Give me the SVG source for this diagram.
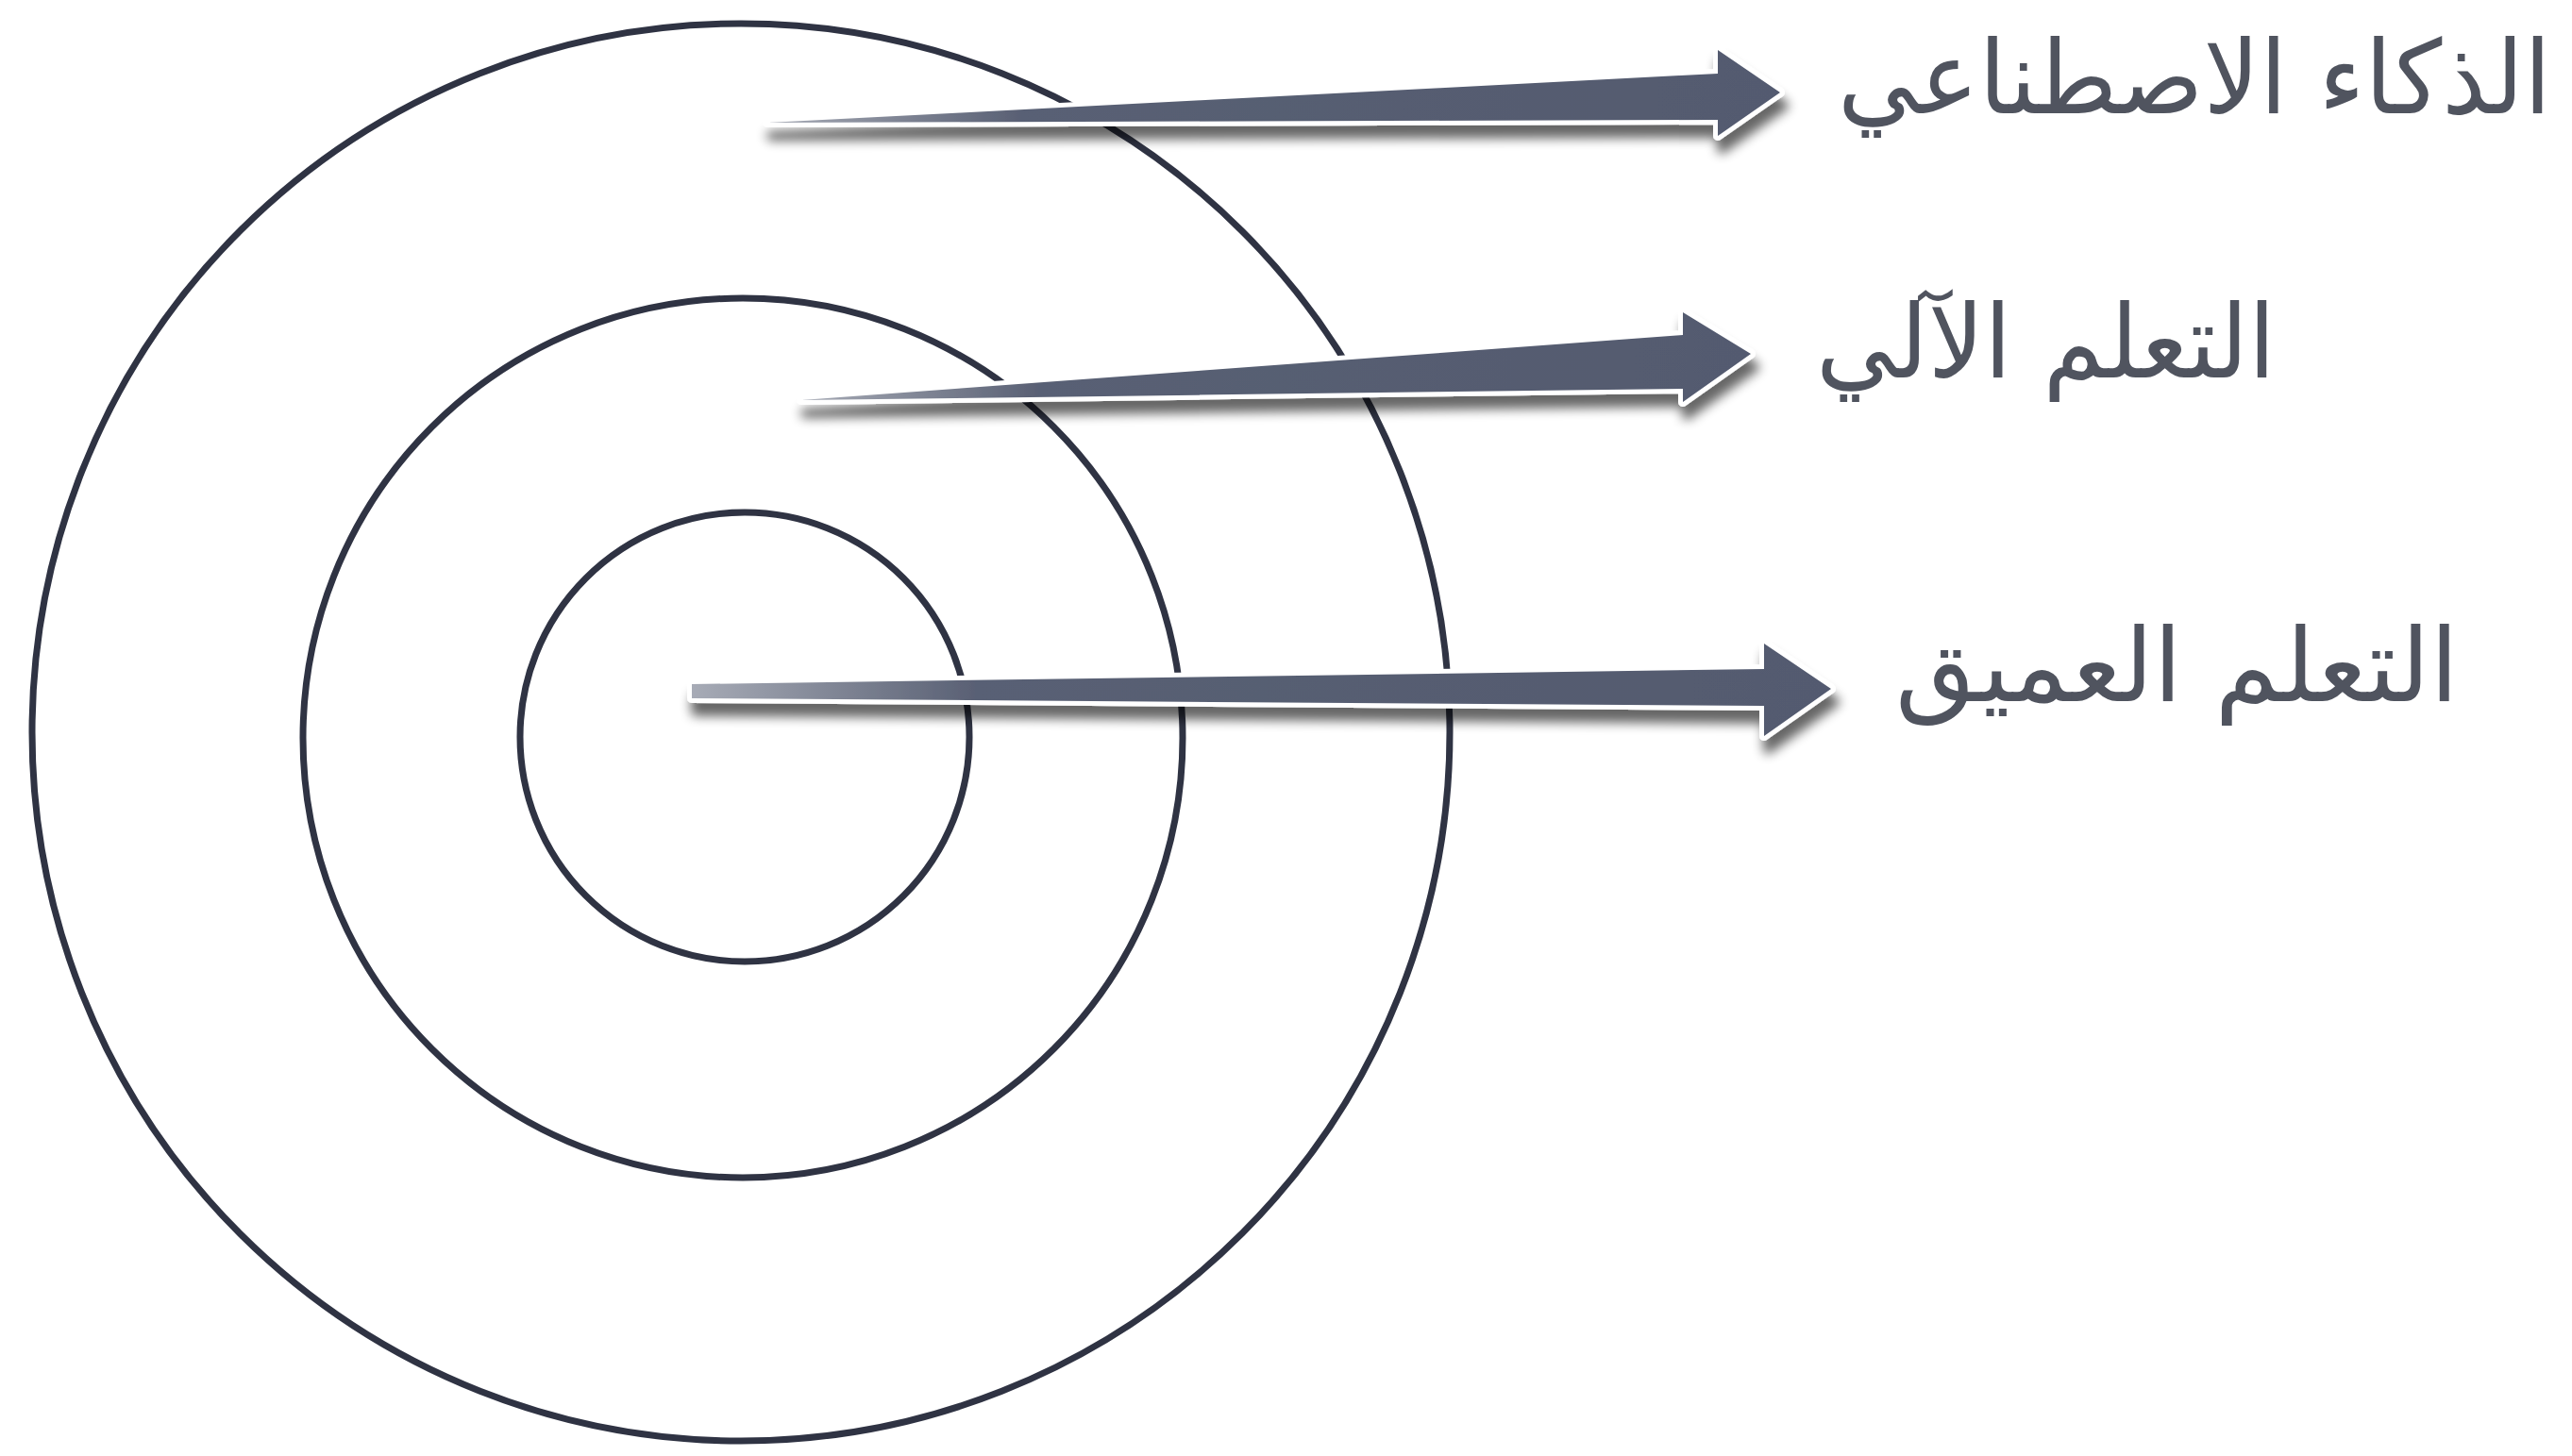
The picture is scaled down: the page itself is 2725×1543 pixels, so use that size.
<svg xmlns="http://www.w3.org/2000/svg" width="2725" height="1543" viewBox="0 0 2725 1543">
<defs>
<style>
.ring{fill:none;stroke:#2f3343;stroke-width:7}
.arrow{stroke:#ffffff;stroke-width:10;stroke-linejoin:round;paint-order:stroke;filter:url(#sh)}
.lbl{font-family:"DejaVu Sans","Noto Sans",sans-serif;font-size:108px;fill:#50545f;text-anchor:end}
</style>
<filter id="sh" x="-5%" y="-60%" width="110%" height="260%">
<feGaussianBlur in="SourceAlpha" stdDeviation="6" result="b"/>
<feOffset in="b" dx="4" dy="14" result="o"/>
<feComponentTransfer in="o" result="s"><feFuncA type="linear" slope="0.6"/></feComponentTransfer>
<feMerge><feMergeNode in="s"/><feMergeNode in="SourceGraphic"/></feMerge>
</filter>
<linearGradient id="g1" x1="0" y1="0" x2="1" y2="0">
<stop offset="0" stop-color="#a7abb6"/>
<stop offset="0.25" stop-color="#596074"/>
<stop offset="1" stop-color="#535a6f"/>
</linearGradient>
</defs>
<rect width="2725" height="1543" fill="#ffffff"/>
<g id="ring-ai"><circle class="ring" cx="785" cy="776" r="751"/></g>
<g id="ring-ml"><circle class="ring" cx="787" cy="782" r="466"/></g>
<g id="ring-dl"><circle class="ring" cx="789" cy="781" r="238"/></g>
<g id="connectors">
<path class="arrow" fill="url(#g1)" d="M813,130 L1820,78 L1820,53 L1886,98 L1820,144 L1820,127 Z"/>
<path class="arrow" fill="url(#g1)" d="M849,424 L1783,355 L1783,331 L1855,375 L1783,426 L1783,412 Z"/>
<path class="arrow" fill="url(#g1)" d="M733,725 L1869,709 L1869,682 L1940,730 L1869,780 L1869,748 L733,740 Z"/>
</g>
<g id="label-ai"><text class="lbl" x="2703" y="120" textLength="756" lengthAdjust="spacingAndGlyphs">الذكاء الاصطناعي</text></g>
<g id="label-ml"><text class="lbl" x="2411" y="400" textLength="487" lengthAdjust="spacingAndGlyphs">التعلم الآلي</text></g>
<g id="label-dl"><text class="lbl" x="2605" y="743" textLength="597" lengthAdjust="spacingAndGlyphs">التعلم العميق</text></g>
</svg>
